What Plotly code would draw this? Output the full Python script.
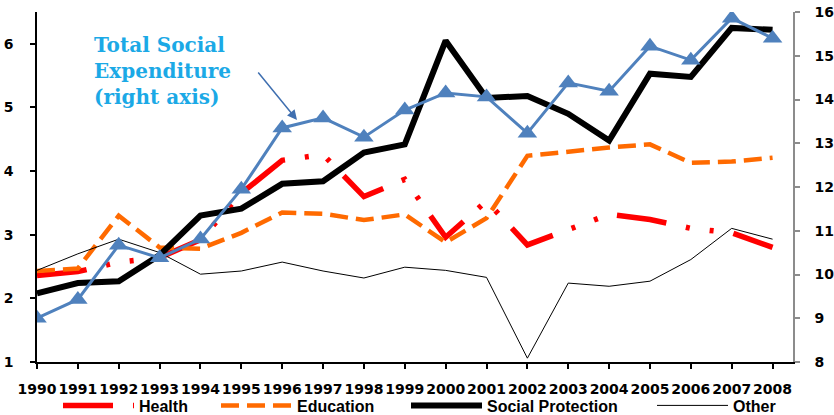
import plotly.graph_objects as go

# Years on the horizontal axis
years = list(range(1990, 2009))
year_labels = [str(y) for y in years]

# Spending components, % of GDP (left axis)
health = [2.36, 2.42, 2.57, 2.64, 2.92, 3.65, 4.17, 4.26, 3.60, 3.87,
          2.96, 3.53, 2.84, 3.07, 3.32, 3.24, 3.10, 3.03, 2.80]
education = [2.43, 2.47, 3.30, 2.80, 2.78, 3.03, 3.35, 3.33, 3.23, 3.32,
             2.88, 3.26, 4.24, 4.31, 4.37, 4.42, 4.13, 4.15, 4.21]
social_protection = [2.08, 2.24, 2.27, 2.68, 3.30, 3.41, 3.80, 3.84, 4.29, 4.42,
                     6.05, 5.15, 5.18, 4.90, 4.48, 5.53, 5.48, 6.25, 6.22]
other = [2.44, 2.70, 2.93, 2.72, 2.38, 2.43, 2.57, 2.43, 2.32, 2.49,
         2.44, 2.33, 1.06, 2.24, 2.19, 2.27, 2.61, 3.10, 2.93]

# Total social expenditure, % of GDP (right axis)
total_social = [9.00, 9.43, 10.67, 10.38, 10.81, 11.95, 13.35, 13.58, 13.14, 13.76,
                14.15, 14.06, 13.23, 14.38, 14.19, 15.22, 14.90, 15.86, 15.40]

left_ticks = [1, 2, 3, 4, 5, 6]
right_ticks = [8, 9, 10, 11, 12, 13, 14, 15, 16]

BLUE = "#4F81BD"
LABEL_BLUE = "#1BA9E6"
NUM_FONT = dict(family="DejaVu Sans", size=14, color="black", weight="bold")
LEG_FONT = dict(family="Liberation Sans", size=16, color="black", weight="bold")

fig = go.Figure()

fig.add_trace(go.Scatter(
    x=years, y=health, name="Health", mode="lines", legend="legend",
    line=dict(color="#FF0000", width=5.5, dash="50px,20px,4px,20px,4px,20px"),
))
fig.add_trace(go.Scatter(
    x=years, y=education, name="Education", mode="lines", legend="legend2",
    line=dict(color="#FF6A00", width=4.5, dash="18px,8px"),
))
fig.add_trace(go.Scatter(
    x=years, y=social_protection, name="Social Protection", mode="lines",
    legend="legend3", line=dict(color="black", width=6),
))
fig.add_trace(go.Scatter(
    x=years, y=other, name="Other", mode="lines", legend="legend4",
    line=dict(color="black", width=1),
))
fig.add_trace(go.Scatter(
    x=years, y=total_social, name="Total Social Expenditure", yaxis="y2",
    mode="lines+markers", showlegend=False,
    line=dict(color=BLUE, width=3),
    marker=dict(symbol="triangle-up", size=17, color=BLUE),
))

# Plot area spans x 37..793 px, y 12..362 px
L, R, T, B = 37, 41, 12, 53
W, H = 834, 415
PW, PH = W - L - R, H - T - B


def px_x(px):
    return (px - L) / PW


def px_y(py):
    return (T + PH - py) / PH


leg_common = dict(orientation="h", yanchor="middle", y=px_y(405.5),
                  xanchor="left", font=LEG_FONT, bgcolor="rgba(0,0,0,0)",
                  itemwidth=71, borderwidth=0, tracegroupgap=0)

fig.update_layout(
    width=W, height=H,
    margin=dict(l=L, r=R, t=T, b=B, autoexpand=False),
    paper_bgcolor="white", plot_bgcolor="white",
    showlegend=True,
    legend=dict(x=px_x(58), **leg_common),
    legend2=dict(x=px_x(216), **leg_common),
    legend3=dict(x=px_x(406), **leg_common),
    legend4=dict(x=px_x(652), **leg_common),
    xaxis=dict(
        range=[1990, 2008.5], tickmode="array", tickvals=years, ticktext=year_labels,
        tickangle=0, showgrid=False, zeroline=False,
        showline=True, linecolor="black", linewidth=2,
        ticks="outside", ticklen=5, tickwidth=1.5, tickcolor="black",
        tickfont=NUM_FONT, ticklabelstandoff=8,
    ),
    yaxis=dict(
        range=[1, 6.5], tickmode="array", tickvals=left_ticks,
        showgrid=False, zeroline=False,
        showline=True, linecolor="black", linewidth=1.5,
        ticks="outside", ticklen=5, tickwidth=1.5, tickcolor="black",
        tickfont=NUM_FONT, ticklabelstandoff=14,
    ),
    yaxis2=dict(
        range=[8, 16], tickmode="array", tickvals=right_ticks,
        overlaying="y", side="right", anchor="x",
        showgrid=False, zeroline=False,
        showline=True, linecolor="#8C8C8C", linewidth=1.5,
        ticks="outside", ticklen=5, tickwidth=1.5, tickcolor="#8C8C8C",
        tickfont=NUM_FONT, ticklabelstandoff=12,
    ),
)

# Callout for the right-axis series
fig.add_annotation(
    text="Total Social<br>Expenditure<br>(right axis)",
    xref="paper", yref="paper", x=px_x(92), y=px_y(71),
    xanchor="left", yanchor="middle", align="left", showarrow=False,
    font=dict(family="DejaVu Serif", size=20, color=LABEL_BLUE, weight="bold"),
)

fig.add_annotation(
    text="", xref="paper", yref="paper", x=px_x(297), y=px_y(120),
    ax=257 - 297, ay=71 - 120, showarrow=True,
    arrowhead=2, arrowsize=1.3, arrowwidth=1.5, arrowcolor="#3F6FB0",
)

fig.write_html("out.html")
